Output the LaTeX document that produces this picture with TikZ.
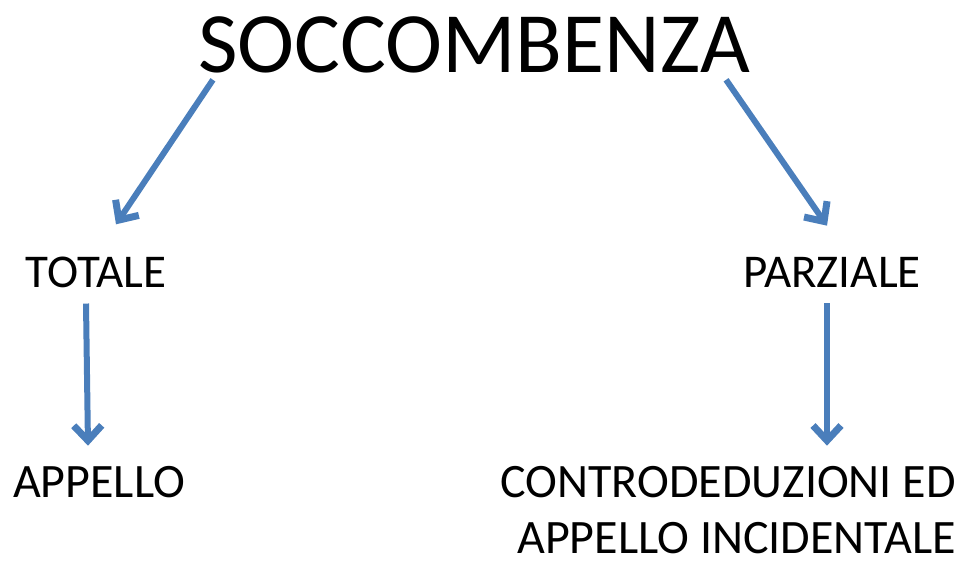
\documentclass[tikz,border=0pt]{standalone}
\usepackage{fontspec}
\setmainfont{Carlito}
\usetikzlibrary{arrows.meta}
\definecolor{freccia}{RGB}{74,126,187}
\tikzset{
	voce/.style={inner sep=0pt,anchor=base,font=\fontsize{47}{56}\selectfont},
	basso/.style={voce,font=\fontsize{48}{58}\selectfont},
	freccia/.style={draw=freccia,line width=6pt,-{Straight Barb[length=15pt,width=28pt,line width=7pt]}}
}

\begin{document}
\begin{tikzpicture}[x=1pt,y=-1pt]
	\useasboundingbox (0,0) rectangle (961,566);
			\node[voce,font=\fontsize{86}{100}\selectfont] (titolo) at (474,72) {SOCCOMBENZA};
			\node[voce] (totale) at (96,287) {TOTALE};
			\node[voce] (parziale) at (832,287) {PARZIALE};
			\node[basso] (appello) at (99,497) {APPELLO};
			\node[basso,anchor=base east] (contro) at (956,497) {CONTRODEDUZIONI ED};
			\node[basso,anchor=base east] (incid) at (956,553) {APPELLO INCIDENTALE};
%			frecce
			\draw[freccia] ([shift={(15,7)}]titolo.south west) -- ([shift={(20,-32)}]totale.north);
			\draw[freccia] ([shift={(-24,7)}]titolo.south east) -- ([shift={(-5,-31)}]parziale.north);
			\draw[freccia] ([shift={(-10,16)}]totale.south) -- ([shift={(-11,-20)}]appello.north);
			\draw[freccia] ([shift={(-5,16)}]parziale.south) -- ([shift={(-129,-20)}]contro.north east);
	\end{tikzpicture}
\end{document}
